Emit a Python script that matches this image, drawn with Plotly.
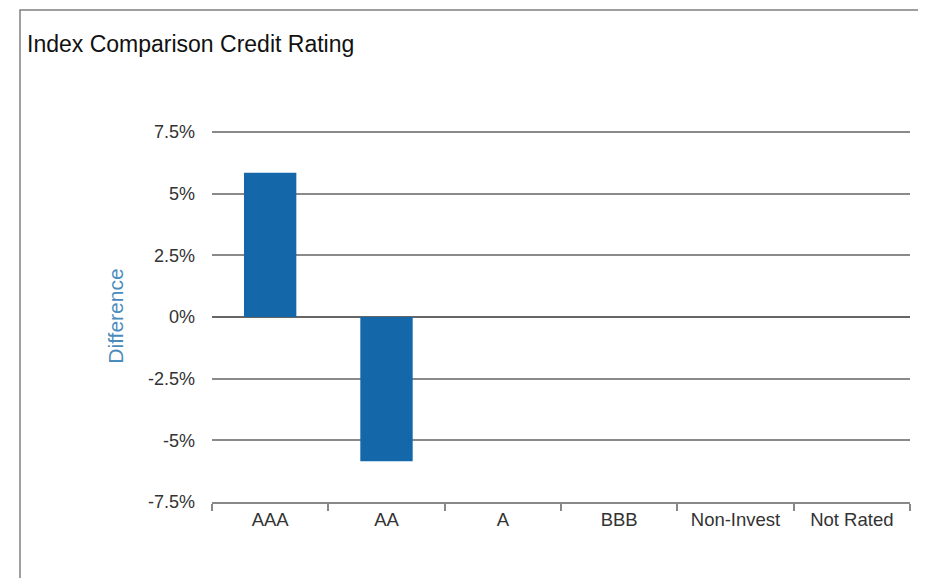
import plotly.graph_objects as go

categories = ["AAA", "AA", "A", "BBB", "Non-Invest", "Not Rated"]
difference = [5.85, -5.85, 0, 0, 0, 0]
y_tick_vals = [7.5, 5, 2.5, 0, -2.5, -5, -7.5]
y_tick_text = ["7.5%", "5%", "2.5%", "0%", "-2.5%", "-5%", "-7.5%"]

OFF = 8  # page body margin
W, H = 926 - 2 * OFF, 586 - 2 * OFF
Y_TOP = 7.58
# target pixel positions in the screenshot
y_hi_px, y_lo_px = 132, 502  # pixels of 7.5 and -7.5
scale = (y_lo_px - y_hi_px) / 15.0
PL, PR = 212, 910
PT, PB = y_hi_px - (Y_TOP - 7.5) * scale, y_lo_px
L, T = PL - OFF, PT - OFF
R = W - (PR - OFF)
B = H - (PB - OFF)
pw, ph = W - L - R, H - T - B

def px_x(p):
    return (p - OFF - L) / pw

def px_y(p):
    return (H - B - (p - OFF)) / ph

fig = go.Figure()
fig.add_trace(go.Bar(
    x=categories, y=difference,
    marker=dict(color="#1467a8", line=dict(width=0)),
    width=0.45,
))

fig.update_layout(
    width=W, height=H,
    margin=dict(l=L, r=R, t=T, b=B),
    paper_bgcolor="white", plot_bgcolor="white",
    showlegend=False,
    font=dict(family="Liberation Sans, Arial, sans-serif", color="#333333"),
    title=dict(text="Index Comparison Credit Rating", x=(27 - OFF) / W, xanchor="left",
               y=1 - (44 - OFF) / H, yanchor="middle",
               font=dict(size=23, color="#111111")),
    xaxis=dict(
        type="category", range=[-0.5, 5.5],
        showline=True, linecolor="#888888", linewidth=1.5,
        ticks="outside", tickson="boundaries", ticklen=7, tickcolor="#888888", tickwidth=1.5,
        showgrid=False,
        tickfont=dict(size=18.5, color="#333333"),
    ),
    yaxis=dict(
        range=[-7.5, Y_TOP],
        tickvals=y_tick_vals, ticktext=y_tick_text,
        showgrid=True, gridcolor="#8a8a8a", gridwidth=1.5,
        zeroline=True, zerolinecolor="#666666", zerolinewidth=1.5,
        showline=False, ticks="",
        ticklabelstandoff=16,
        tickfont=dict(size=18, color="#333333"),
        title=dict(text="Difference", font=dict(size=21, color="#4a8bbd"), standoff=18),
    ),
)

fig.add_shape(type="rect", xref="paper", yref="paper",
              x0=px_x(20), x1=px_x(919), y0=px_y(600), y1=px_y(10),
              line=dict(color="#808080", width=1.5), fillcolor="rgba(0,0,0,0)",
              layer="below")

fig.write_html("out.html")
